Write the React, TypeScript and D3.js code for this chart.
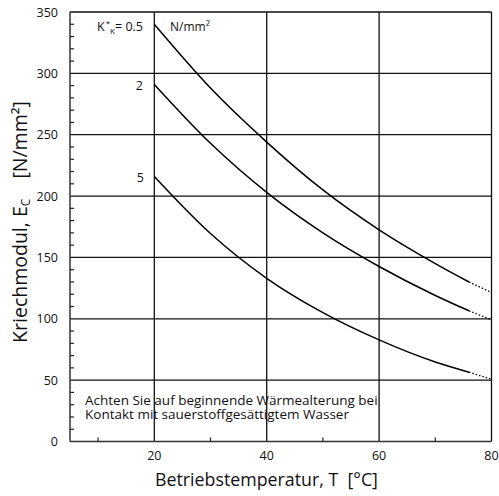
import React from "react";
import * as d3 from "d3";

const temps = [20, 30, 40, 50, 60, 70, 76];
const extTemps = [76, 80];
const seriesLabels = ["0.5", "2", "5"];
const seriesK05 = [340, 288, 244, 205, 172.5, 145, 130];
const seriesK2 = [291, 243, 203, 170, 142.6, 119, 106.5];
const seriesK5 = [216, 169.5, 133, 105, 82.8, 64.8, 56.5];
const extK05 = [130, 121.4];
const extK2 = [106.5, 99.1];
const extK5 = [56.5, 50.7];
const yTicks = [0, 50, 100, 150, 200, 250, 300, 350];
const xTicks = [20, 40, 60, 80];
const yMinor = d3.range(0, 351, 10).filter((v) => v % 50 !== 0);
const xMinor = [10, 30, 50, 70];
const note = ["Achten Sie auf beginnende Wärmealterung bei", "Kontakt mit sauerstoffgesättigtem Wasser"];

const FONT = "'Open Sans', 'Noto Sans', sans-serif";

export default function App() {
  const W = 499, H = 496;
  const x = d3.scaleLinear().domain([5, 80]).range([70, 491.5]);
  const y = d3.scaleLinear().domain([0, 350]).range([441.5, 12]);
  const line = d3
    .line<[number, number]>()
    .x((d) => x(d[0]))
    .y((d) => y(d[1]))
    .curve(d3.curveMonotoneX);
  const solid = [seriesK05, seriesK2, seriesK5];
  const ext = [extK05, extK2, extK5];
  const gridC = "#111";
  return (
    <div style={{ position: "absolute", left: 0, top: 0 }}>
      <svg width={W} height={H} style={{ display: "block" }} fontFamily={FONT}>
        <rect width={W} height={H} fill="#fff" />
        {yTicks.filter((v) => v > 0).map((v) => (
          <line key={"h" + v} x1={x(5)} x2={x(80)} y1={y(v)} y2={y(v)} stroke={gridC} strokeWidth={1.3} />
        ))}
        {xTicks.map((v) => (
          <line key={"v" + v} x1={x(v)} x2={x(v)} y1={y(0)} y2={y(350)} stroke={gridC} strokeWidth={1.3} />
        ))}
        <line x1={x(5)} x2={x(5)} y1={y(0)} y2={y(350)} stroke="#333" strokeWidth={1.5} />
        <line x1={x(5)} x2={x(80)} y1={y(0)} y2={y(0)} stroke="#333" strokeWidth={1.5} />
        {yMinor.map((v) => (
          <line key={"ym" + v} x1={x(5)} x2={x(5) + 4} y1={y(v)} y2={y(v)} stroke="#222" strokeWidth={1.2} />
        ))}
        {xMinor.map((v) => (
          <line key={"xm" + v} x1={x(v)} x2={x(v)} y1={y(0)} y2={y(0) - 4} stroke="#222" strokeWidth={1.2} />
        ))}
        {yTicks.map((v) => (
          <text key={"yl" + v} x={58} y={y(v)} dy="0.36em" textAnchor="end" fontSize={12.5} fill="#111">
            {v}
          </text>
        ))}
        {xTicks.map((v) => (
          <text key={"xl" + v} x={x(v)} y={460} textAnchor="middle" fontSize={12.5} fill="#111">
            {v}
          </text>
        ))}
        {solid.map((s, i) => (
          <path
            key={"c" + i}
            d={line(temps.map((t, j) => [t, s[j]] as [number, number])) || ""}
            fill="none"
            stroke="#000"
            strokeWidth={1.5}
          />
        ))}
        {ext.map((s, i) => (
          <path
            key={"e" + i}
            d={line(extTemps.map((t, j) => [t, s[j]] as [number, number])) || ""}
            fill="none"
            stroke="#000"
            strokeWidth={1.3}
            strokeDasharray="1.5,2"
          />
        ))}
        <text x={143} y={31} textAnchor="end" fontSize={12.5} fill="#111">
          K<tspan fontSize={8} dy={-5} dx={1}>*</tspan>
          <tspan fontSize={8} dy={8}>K</tspan>
          <tspan dy={-3}>{"= " + seriesLabels[0]}</tspan>
        </text>
        <text x={170} y={31} fontSize={12} fill="#111">
          N/mm²
        </text>
        <text x={143} y={90} textAnchor="end" fontSize={12.5} fill="#111">
          {seriesLabels[1]}
        </text>
        <text x={144} y={182} textAnchor="end" fontSize={12.5} fill="#111">
          {seriesLabels[2]}
        </text>
        {note.map((t, i) => (
          <text key={"n" + i} x={85} y={404.5 + i * 14} fontSize={13.5} fill="#111">
            {t}
          </text>
        ))}
        <text x={266.5} y={486} textAnchor="middle" fontSize={17.8} fill="#111" style={{ whiteSpace: "pre" }}>
          {"Betriebstemperatur, T  [°C]"}
        </text>
        <text
          transform={`translate(27,222) rotate(-90)`}
          textAnchor="middle"
          fontSize={19.5}
          fill="#111"
          style={{ whiteSpace: "pre" }}
        >
          Kriechmodul, E<tspan fontSize={12} dy={3}>C</tspan>
          <tspan dy={-3} dx={10}>{"  [N/mm²]"}</tspan>
        </text>
      </svg>
    </div>
  );
}
